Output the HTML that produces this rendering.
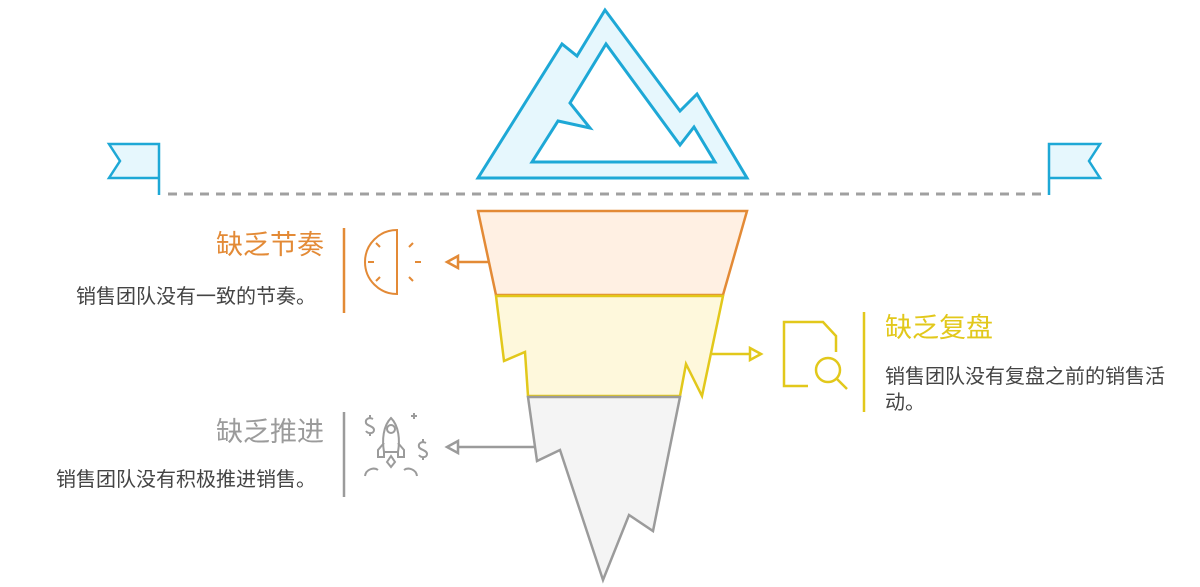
<!DOCTYPE html>
<html><head><meta charset="utf-8"><style>
body{margin:0;width:1200px;height:587px;background:#fff;overflow:hidden;position:relative;font-family:"Liberation Sans","Noto Sans CJK SC",sans-serif}
.t{position:absolute;white-space:nowrap}
.h{font-size:27px;line-height:32px}
.d{font-size:20px;line-height:26px;color:#444}
</style></head><body>
<svg width="1200" height="587" style="position:absolute;left:0;top:0" fill="none" stroke-linejoin="miter">
<path fill-rule="evenodd" d="M478,178 L562,44 L577,56 L605,10 L680,111 L697,94 L747,178 Z M532,162 L558,121 L590,128 L570,103 L606,44 L680,145 L694,127 L715,162 Z" fill="#e6f7fd" stroke="#1ea8d6" stroke-width="3"/>
<path d="M159,195 L159,144 L109,144 L120,161 L109,178 L159,178" fill="#e6f7fd" stroke="#1ea8d6" stroke-width="2.5"/>
<path d="M1049,195 L1049,144 L1100,144 L1089,161 L1100,178 L1049,178" fill="#e6f7fd" stroke="#1ea8d6" stroke-width="2.5"/>
<line x1="168" y1="194" x2="1046" y2="194" stroke="#a0a0a0" stroke-width="3" stroke-dasharray="9,7"/>
<path d="M478,211 L747,211 L723,295 L496,295 Z" fill="#fff0e3" stroke="#e38a36" stroke-width="2.5"/>
<path d="M496,296 L723,296 L702,396 L686,364 L680,396 L528,396 L525,352 L504,361 Z" fill="#fef8dc" stroke="#e2c81b" stroke-width="2.5"/>
<path d="M528,397 L680,397 L653,531 L629,515 L603,580 L560,450 L537,461 Z" fill="#f4f4f4" stroke="#9b9b9b" stroke-width="2.5"/>
<line x1="488" y1="262" x2="458" y2="262" stroke="#e38a36" stroke-width="2.5"/>
<path d="M458,256 L447,262 L458,268 Z" fill="#fff" stroke="#e38a36" stroke-width="2.5"/>
<line x1="712" y1="354" x2="750" y2="354" stroke="#e2c81b" stroke-width="2.5"/>
<path d="M750,348 L761,354 L750,360 Z" fill="#fff" stroke="#e2c81b" stroke-width="2.5"/>
<line x1="535" y1="447" x2="458" y2="447" stroke="#9b9b9b" stroke-width="2.5"/>
<path d="M458,441 L447,447 L458,453 Z" fill="#fff" stroke="#9b9b9b" stroke-width="2.5"/>
<line x1="344" y1="228" x2="344" y2="313" stroke="#e38a36" stroke-width="2.5"/>
<line x1="344" y1="412" x2="344" y2="497" stroke="#9b9b9b" stroke-width="2.5"/>
<line x1="864" y1="312" x2="864" y2="412" stroke="#e2c81b" stroke-width="2.5"/>
<g stroke="#e38a36" stroke-width="2">
<path d="M397,230 A32,32 0 0 0 397,294 Z"/>
<line x1="376" y1="243" x2="380" y2="247"/><line x1="368" y1="262" x2="374" y2="262"/><line x1="376" y1="281" x2="380" y2="277"/>
<line x1="409" y1="247" x2="413" y2="243"/><line x1="415" y1="262" x2="421" y2="262"/><line x1="409" y1="277" x2="413" y2="281"/>
</g>
<g stroke="#e2c81b" stroke-width="2.5">
<path d="M808,386 L784,386 L784,322 L823,322 L836,336 L836,352"/>
<circle cx="828" cy="370" r="12"/>
<line x1="837" y1="379" x2="847" y2="389"/>
</g>
<g stroke="#9b9b9b" stroke-width="2">
<path d="M391,418 C383,426 382,440 384,452 L398,452 C400,440 399,426 391,418 Z"/>
<circle cx="391" cy="429" r="4"/>
<path d="M384,443 L378,450 L378,457 L384,457 L384,452 M398,443 L404,450 L404,457 L398,457 L398,452"/>
<path d="M387,462 L391,456 L395,462 L391,467 Z"/>
<path d="M365,476 C366,469 374,467 378,470 M417,476 C416,469 408,467 404,470"/>
<path d="M373,419 C369,417 365,419 366,423 C367,426 374,426 374,430 C374,434 368,434 366,431 M370,415 L370,418 M370,433 L370,436"/>
<path d="M426,443 C422,441 418,443 419,447 C420,450 427,450 427,454 C427,458 421,458 419,455 M423,439 L423,442 M423,457 L423,460"/>
<path d="M414,413 L414,419 M411,416 L417,416"/>
</g>
</svg>
<div class="t h" style="right:876px;top:229px;color:#e38a36">缺乏节奏</div>
<div class="t d" style="right:884px;top:284px">销售团队没有一致的节奏。</div>
<div class="t h" style="right:876px;top:416px;color:#9b9b9b">缺乏推进</div>
<div class="t d" style="right:884px;top:467px">销售团队没有积极推进销售。</div>
<div class="t h" style="left:885px;top:312px;color:#e2c81b">缺乏复盘</div>
<div class="t d" style="left:885px;top:364px;white-space:normal;width:296px">销售团队没有复盘之前的销售活动。</div>
</body></html>
